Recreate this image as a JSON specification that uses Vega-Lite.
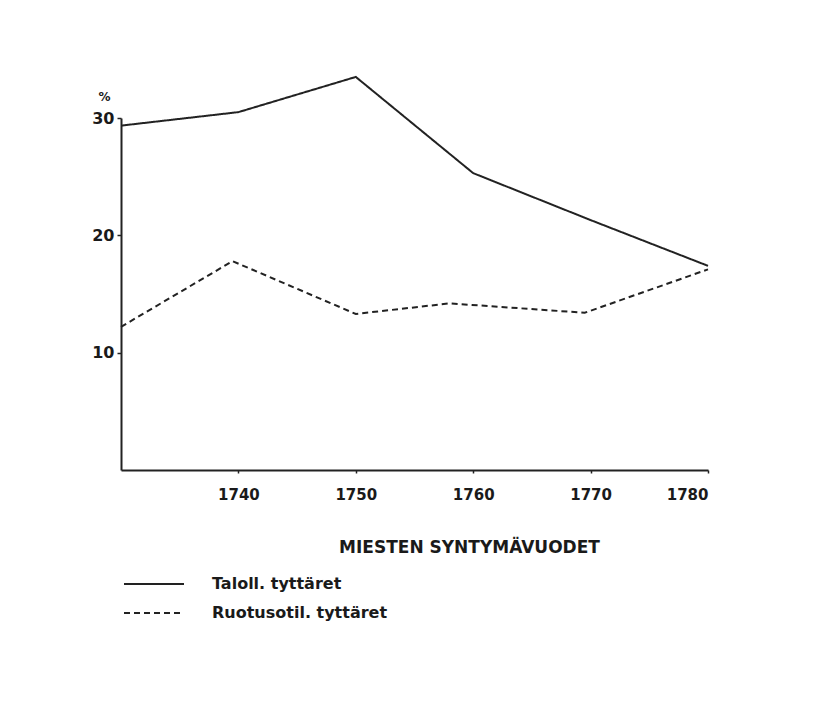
{
  "$schema": "https://vega.github.io/schema/vega-lite/v6.json",
  "width": 587,
  "height": 352,
  "autosize": "none",
  "padding": {"left": 121, "top": 118, "right": 113, "bottom": 237},
  "background": "white",
  "config": {
    "view": {"stroke": null},
    "font": "DejaVu Sans"
  },
  "data": {
    "values": [
      {"series": "Taloll. tyttäret", "year": 1730, "value": 29.35},
      {"series": "Taloll. tyttäret", "year": 1740, "value": 30.5},
      {"series": "Taloll. tyttäret", "year": 1750, "value": 33.5},
      {"series": "Taloll. tyttäret", "year": 1760, "value": 25.3},
      {"series": "Taloll. tyttäret", "year": 1770, "value": 21.3},
      {"series": "Taloll. tyttäret", "year": 1780, "value": 17.4},
      {"series": "Ruotusotil. tyttäret", "year": 1730, "value": 12.2},
      {"series": "Ruotusotil. tyttäret", "year": 1739.5, "value": 17.8},
      {"series": "Ruotusotil. tyttäret", "year": 1750, "value": 13.3},
      {"series": "Ruotusotil. tyttäret", "year": 1758, "value": 14.2},
      {"series": "Ruotusotil. tyttäret", "year": 1769.5, "value": 13.4},
      {"series": "Ruotusotil. tyttäret", "year": 1780, "value": 17.1}
    ]
  },
  "mark": {"type": "line", "color": "#222222", "strokeWidth": 2, "clip": false},
  "encoding": {
    "x": {
      "field": "year",
      "type": "quantitative",
      "scale": {"domain": [1730, 1780], "nice": false, "zero": false},
      "axis": {
        "values": [1740, 1750, 1760, 1770, 1780],
        "format": "d",
        "grid": false,
        "domainColor": "#222222",
        "domainWidth": 2,
        "tickColor": "#222222",
        "tickSize": 3,
        "tickWidth": 1.5,
        "labelFont": "DejaVu Sans",
        "labelFontWeight": "bold",
        "labelFontSize": 15,
        "labelColor": "#1a1a1a",
        "labelPadding": 14,
        "title": "MIESTEN SYNTYMÄVUODET",
        "titleFont": "DejaVu Sans",
        "titleFontWeight": "bold",
        "titleFontSize": 17,
        "titleColor": "#1a1a1a",
        "titleX": 348,
        "titleY": 77,
        "titleAlign": "center",
        "titleBaseline": "middle"
      }
    },
    "y": {
      "field": "value",
      "type": "quantitative",
      "scale": {"domain": [0, 30], "nice": false, "zero": true},
      "axis": {
        "values": [10, 20, 30],
        "grid": false,
        "domainColor": "#222222",
        "domainWidth": 2,
        "tickColor": "#222222",
        "tickSize": 4,
        "tickWidth": 1.5,
        "labelFont": "DejaVu Sans",
        "labelFontWeight": "bold",
        "labelFontSize": 16,
        "labelColor": "#1a1a1a",
        "labelPadding": 3,
        "title": "%",
        "titleAngle": 0,
        "titleFont": "DejaVu Sans",
        "titleFontWeight": "bold",
        "titleFontSize": 12,
        "titleColor": "#1a1a1a",
        "titleX": -17,
        "titleY": -22,
        "titleAlign": "center",
        "titleBaseline": "middle"
      }
    },
    "strokeDash": {
      "field": "series",
      "type": "nominal",
      "scale": {
        "domain": ["Taloll. tyttäret", "Ruotusotil. tyttäret"],
        "range": [[1, 0], [6, 4]]
      },
      "legend": {
        "orient": "none",
        "legendX": 22,
        "legendY": 455,
        "title": null,
        "symbolType": "M-3,0H3",
        "symbolSize": 400,
        "symbolStrokeWidth": 2,
        "symbolStrokeColor": "#222222",
        "symbolFillColor": "transparent",
        "labelFont": "DejaVu Sans",
        "labelFontWeight": "bold",
        "labelFontSize": 16,
        "labelColor": "#1a1a1a",
        "labelOffset": 47,
        "labelLimit": 400,
        "rowPadding": 10,
        "padding": 0
      }
    }
  }
}
